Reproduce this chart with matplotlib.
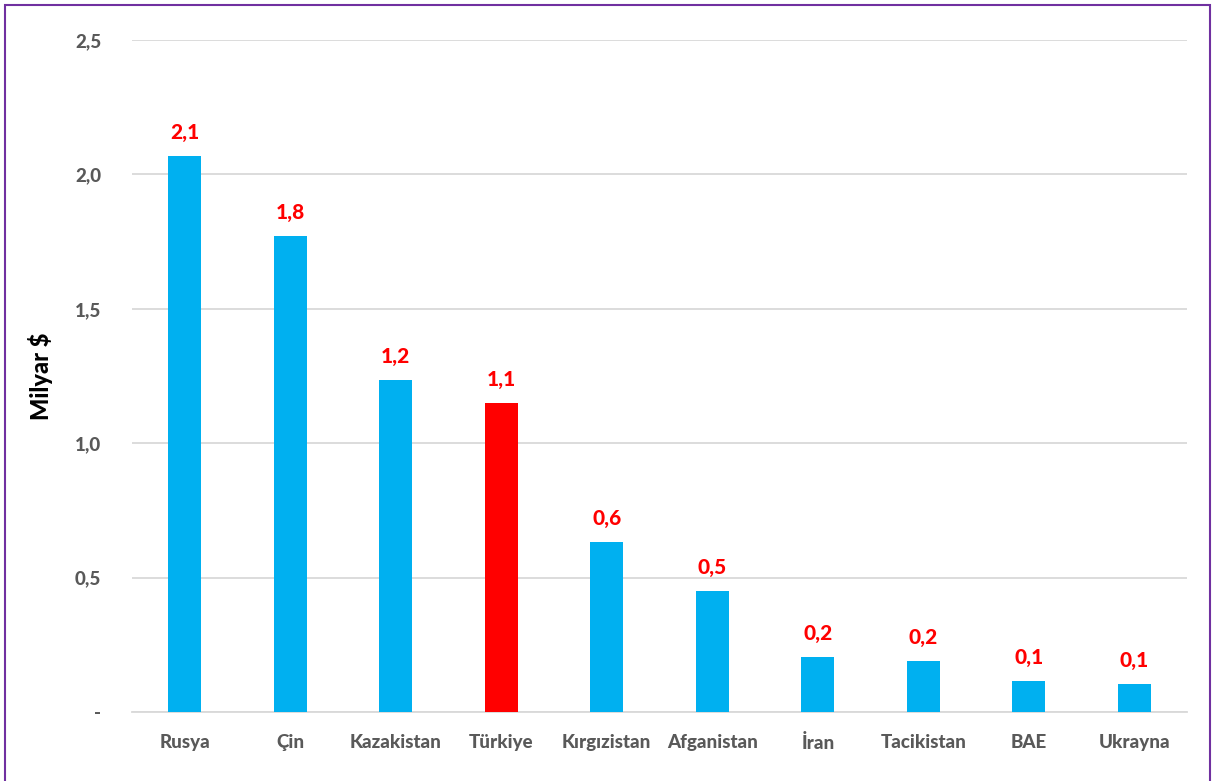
import numpy as np
import matplotlib.pyplot as plt
from matplotlib.patches import Rectangle

countries = ["Rusya", "Çin", "Kazakistan", "Türkiye", "Kırgızistan", "Afganistan",
             "İran", "Tacikistan", "BAE", "Ukrayna"]
values = [2.07, 1.77, 1.235, 1.15, 0.632, 0.45, 0.205, 0.19, 0.115, 0.104]
labels = ["2,1", "1,8", "1,2", "1,1", "0,6", "0,5", "0,2", "0,2", "0,1", "0,1"]
yticks = [0, 0.5, 1.0, 1.5, 2.0, 2.5]
ytick_labels = ["-", "0,5", "1,0", "1,5", "2,0", "2,5"]

plt.rcParams['font.family'] = ['Lato', 'DejaVu Sans']

fig = plt.figure(figsize=(12.15, 7.81), dpi=100)
ax = fig.add_axes([0.1086, 0.0883, 0.8684, 0.8605])

colors = ["#FF0000" if c == "Türkiye" else "#00B0F0" for c in countries]
x = np.arange(len(countries))
bars = ax.bar(x, values, width=0.31, color=colors, zorder=3)

for b, lab in zip(bars, labels):
    ax.annotate(lab, (b.get_x() + b.get_width() / 2, b.get_height()),
                xytext=(0, 10), textcoords="offset points", ha="center", va="bottom",
                color="#FF0000", fontsize=15, fontweight="black")

ax.set_xlim(-0.5, len(countries) - 0.5)
ax.set_ylim(0, 2.5)
ax.set_yticks(yticks)
ax.set_yticklabels(ytick_labels)
ax.set_xticks(x)
ax.set_xticklabels(countries)
ax.tick_params(axis="both", length=0, labelsize=13.5, labelcolor="#595959")
ax.tick_params(axis="y", pad=22)
ax.tick_params(axis="x", pad=16)
for t in ax.get_xticklabels() + ax.get_yticklabels():
    t.set_fontweight("black")

ax.grid(axis="y", color="#D9D9D9", linewidth=1.3, zorder=0)
for s in ["top", "right", "left"]:
    ax.spines[s].set_visible(False)
ax.spines["bottom"].set_color("#D9D9D9")
ax.spines["bottom"].set_linewidth(1.3)

ax.set_ylabel("Milyar $", fontsize=17, fontweight="black", color="black", labelpad=16)

fig.patches.append(Rectangle((5 / 1215, -0.05), 1205 / 1215, 1 - 5 / 781 + 0.05,
                             transform=fig.transFigure, fill=False,
                             edgecolor="#7030A0", linewidth=1.5))

fig.savefig("out.png", dpi=100)
